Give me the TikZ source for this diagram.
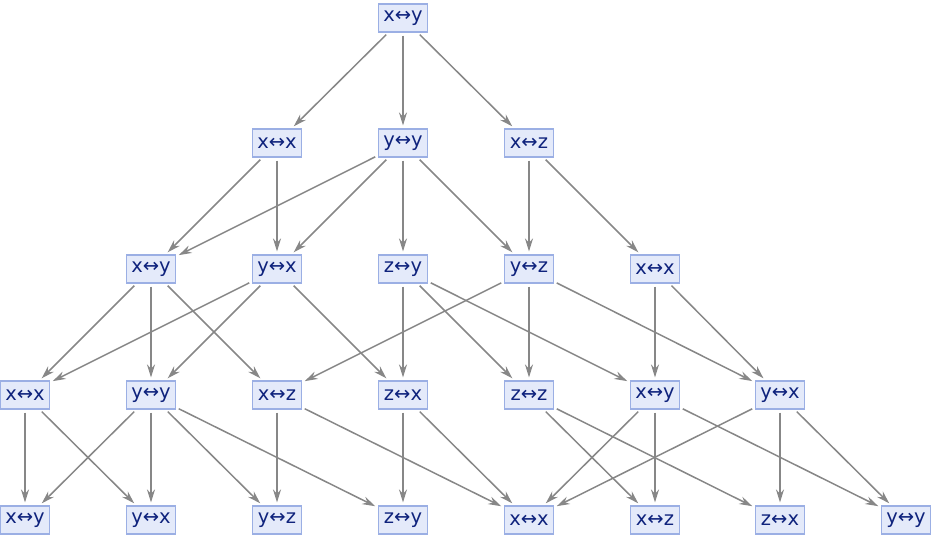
\documentclass[tikz,border=0pt]{standalone}
\usepackage{fontspec}
\setmainfont{DejaVu Sans}
\usetikzlibrary{arrows.meta}
\definecolor{boxfill}{RGB}{228,234,250}
\definecolor{boxline}{RGB}{155,175,228}
\definecolor{boxtext}{RGB}{15,35,125}
\definecolor{edgecol}{RGB}{135,135,135}
\tikzset{
  st/.style={draw=boxline, fill=boxfill, text=boxtext, line width=1.1pt,
    minimum width=49pt, minimum height=28pt, inner sep=0pt,
    font=\fontsize{19.5}{21}\selectfont},
  ed/.style={draw=edgecol, line width=1.5pt,
    -{Stealth[length=13pt,width=8pt]}, shorten >=3pt, shorten <=3pt}
}
\begin{document}
\begin{tikzpicture}[x=1pt,y=1pt]
\useasboundingbox (0,0) rectangle (934,540);
% level 0
\node[st] (a) at (403,522) {x↔y};
% level 1
\node[st] (b1) at (277,397) {x↔x};
\node[st] (b2) at (403,397) {y↔y};
\node[st] (b3) at (529,397) {x↔z};
% level 2
\node[st] (c1) at (151,271) {x↔y};
\node[st] (c2) at (277,271) {y↔x};
\node[st] (c3) at (403,271) {z↔y};
\node[st] (c4) at (529,271) {y↔z};
\node[st] (c5) at (655,271) {x↔x};
% level 3
\node[st] (d1) at (25,145) {x↔x};
\node[st] (d2) at (151,145) {y↔y};
\node[st] (d3) at (277,145) {x↔z};
\node[st] (d4) at (403,145) {z↔x};
\node[st] (d5) at (529,145) {z↔z};
\node[st] (d6) at (655,145) {x↔y};
\node[st] (d7) at (780,145) {y↔x};
% level 4
\node[st] (e1) at (25,20) {x↔y};
\node[st] (e2) at (151,20) {y↔x};
\node[st] (e3) at (277,20) {y↔z};
\node[st] (e4) at (403,20) {z↔y};
\node[st] (e5) at (529,20) {x↔x};
\node[st] (e6) at (655,20) {x↔z};
\node[st] (e7) at (780,20) {z↔x};
\node[st] (e8) at (906,20) {y↔y};
% edges
\foreach \s/\t in {a/b1,a/b2,a/b3,
  b1/c1,b1/c2,b2/c1,b2/c2,b2/c3,b2/c4,b3/c4,b3/c5,
  c1/d1,c1/d2,c1/d3,c2/d1,c2/d2,c2/d4,c3/d4,c3/d5,c3/d6,c4/d3,c4/d5,c4/d7,c5/d6,c5/d7,
  d1/e1,d1/e2,d2/e1,d2/e2,d2/e3,d2/e4,d3/e3,d3/e5,d4/e4,d4/e5,d5/e6,d5/e7,
  d6/e5,d6/e6,d6/e8,d7/e5,d7/e7,d7/e8}
  \draw[ed] (\s) -- (\t);
\end{tikzpicture}
\end{document}
